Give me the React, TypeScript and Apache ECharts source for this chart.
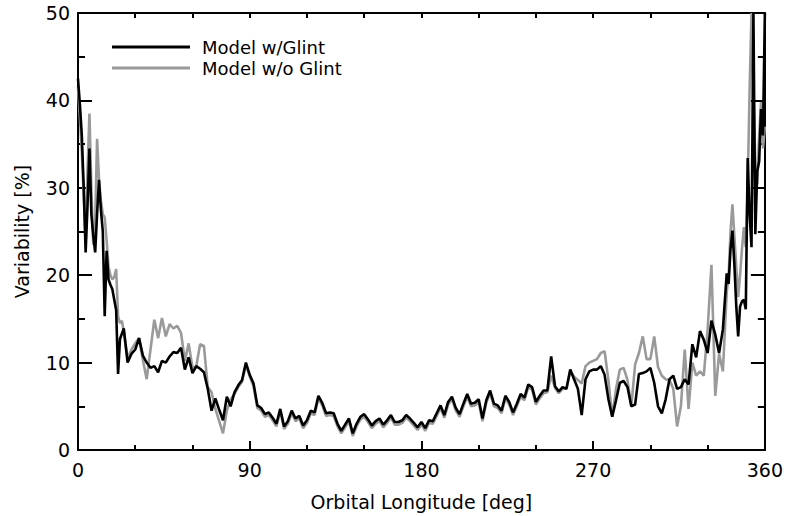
import React, { useEffect, useRef } from "react";
import * as echarts from "echarts";

// Orbital longitude samples [deg]
const longitude = [
  0, 1, 2, 3, 4, 5, 6, 7, 8, 9, 10, 11, 12, 13, 14, 15, 16, 17, 18, 19, 20, 21, 22, 23, 24,
  26, 28, 30, 32, 34,
  36, 38, 40, 42, 44,
  46, 48, 50, 52, 54,
  56, 58, 60, 62, 64,
  66, 68, 70, 72, 74,
  76, 78, 80, 82, 84,
  86, 88, 90, 92, 94,
  96, 98, 100, 102, 104,
  106, 108, 110, 112, 114,
  116, 118, 120, 122, 124,
  126, 128, 130, 132, 134,
  136, 138, 140, 142, 144,
  146, 148, 150, 152, 154,
  156, 158, 160, 162, 164,
  166, 168, 170, 172, 174,
  176, 178, 180, 182, 184,
  186, 188, 190, 192, 194,
  196, 198, 200, 202, 204,
  206, 208, 210, 212, 214,
  216, 218, 220, 222, 224,
  226, 228, 230, 232, 234,
  236, 238, 240, 242, 244,
  246, 248, 250, 252, 254,
  256, 258, 260, 262, 264,
  266, 268, 270, 272, 274,
  276, 278, 280, 282, 284,
  286, 288, 290, 292, 294,
  296, 298, 300, 302, 304,
  306, 308, 310, 312, 314,
  316, 318, 320, 322, 324,
  326, 328, 330, 332, 334,
  336, 338, 340,
  341, 342, 343, 344, 345, 346, 347, 348, 349, 350,
  351, 352, 353, 354, 355, 356, 357, 358, 359, 360,
];

// Variability [%], model including glint
const withGlint = [
  42.5, 39.5, 36, 30, 22.6, 28, 34.5, 27, 24.5, 22.6, 27, 30.9, 27.5, 25, 15.3, 22.8, 19.5, 18.9, 18.4, 17.2, 16, 8.7, 12.7, 13.3, 13.9,
  10.0, 11.0, 11.5, 12.8, 10.8,
  10.0, 9.4, 9.6, 8.9, 10.2,
  10.0, 10.7, 11.2, 11.1, 11.7,
  9.2, 10.6, 8.8, 9.6, 9.3,
  8.9, 7.0, 4.5, 5.9, 4.6,
  3.4, 6.1, 5.0, 6.6, 7.4,
  8.0, 10.0, 8.6, 7.6, 5.1,
  4.8, 4.1, 4.3, 3.7, 3.0,
  4.7, 2.7, 3.3, 4.5, 3.6,
  3.9, 2.8, 3.4, 4.5, 4.3,
  6.2, 5.4, 4.2, 4.3, 4.2,
  3.0, 2.2, 2.9, 3.6, 1.9,
  3.0, 3.8, 4.1, 3.5, 2.8,
  3.3, 3.6, 2.9, 3.4, 4.0,
  3.2, 3.2, 3.4, 4.0, 3.6,
  3.1, 2.6, 3.2, 2.5, 3.4,
  3.3, 4.2, 5.1, 4.0, 5.5,
  6.1, 4.8, 4.1, 5.3, 6.4,
  5.3, 5.4, 5.8, 3.6, 5.7,
  6.8, 5.3, 5.1, 4.5, 6.2,
  5.5, 4.3, 5.3, 6.4, 6.0,
  7.5, 7.2, 5.5, 6.2, 6.8,
  6.8, 10.7, 7.3, 6.7, 7.2,
  7.0, 9.2, 8.1, 7.0, 4.0,
  8.1, 9.0, 9.2, 9.2, 9.6,
  8.6, 5.8, 3.8, 5.7, 7.7,
  7.9, 7.2, 5.0, 5.2, 8.7,
  8.8, 9.0, 9.4, 7.7, 5.0,
  4.2, 5.8, 8.1, 8.5, 7.0,
  7.2, 8.1, 7.5, 12.1, 10.6,
  13.6, 12.6, 11.1, 14.8, 13.2,
  11.1, 13.8, 20.2,
  19.0, 23.0, 25.1, 21.3, 16.5, 13.0, 16.4, 17.0, 17.2, 16.1,
  33.4, 27.0, 23.2, 50.0, 24.7, 31.9, 33.0, 39.0, 36.0, 50.0,
];

// Variability [%], model without glint
const withoutGlint = [
  41.5, 38, 34, 29, 24, 32, 38.5, 30, 23.5, 26, 35.6, 31, 28.5, 27, 26.6, 24, 21, 20, 19.5, 19.8, 20.7, 15.3, 14.5, 14.8, 13.5,
  10.5, 11.5, 12.2, 12.8, 10.3,
  8.1, 11.5, 14.9, 12.8, 15.1,
  13.0, 14.4, 13.9, 14.2, 13.4,
  10.2, 12.2, 9.4, 9.6, 12.1,
  11.9, 7.2, 6.6, 4.7, 3.3,
  1.9, 4.5, 5.8, 6.4, 7.2,
  7.8, 9.8, 8.4, 7.3, 4.8,
  4.5, 3.8, 4.0, 3.4, 2.7,
  4.4, 2.4, 3.0, 4.2, 3.3,
  3.6, 2.5, 3.1, 4.2, 4.0,
  5.9, 5.1, 3.9, 4.0, 3.9,
  2.7, 1.9, 2.6, 3.3, 1.6,
  2.7, 3.5, 3.8, 3.2, 2.5,
  3.0, 3.3, 2.6, 3.1, 3.7,
  2.9, 2.9, 3.1, 3.7, 3.3,
  2.8, 2.3, 2.9, 2.2, 3.1,
  3.0, 3.9, 4.8, 3.7, 5.2,
  5.8, 4.5, 3.8, 5.0, 6.1,
  5.0, 5.1, 5.5, 3.3, 5.4,
  6.5, 5.0, 4.8, 4.2, 5.9,
  5.2, 4.0, 5.0, 6.1, 5.7,
  7.2, 6.9, 5.2, 5.9, 6.5,
  6.6, 8.5, 7.1, 6.5, 7.0,
  7.0, 9.0, 8.4, 8.0, 7.6,
  9.6, 10.0, 10.2, 10.4, 11.1,
  11.3, 8.0, 3.8, 7.0, 9.2,
  9.4, 8.0, 5.0, 9.8, 11.1,
  13.0, 10.4, 10.4, 13.0, 9.5,
  8.5, 8.1, 8.0, 7.0, 2.7,
  5.0, 11.5, 4.7, 10.0, 8.5,
  9.0, 8.5, 13.8, 21.2, 6.2,
  11.0, 9.0, 18.0,
  20.0, 25.0, 28.1, 24.5, 21.0, 17.5, 20.0, 23.0, 25.5, 23.2,
  30.0, 41.3, 50.0, 40.0, 33.0, 30.4, 36.0, 39.8, 34.5, 37.0,
];

const FONT = "'DejaVu Sans', 'Liberation Sans', sans-serif";
const GREY = "#9a9a9a";

function toPairs(values: number[]) {
  return longitude.map((x, i) => [x, values[i]]);
}

function xAxisBase(position: "bottom" | "top", tickLen: number, minorLen: number, labels: boolean) {
  return {
    type: "value" as const,
    position,
    min: 0,
    max: 360,
    interval: 90,
    axisLine: { show: true, onZero: false, lineStyle: { color: "#000", width: 2 } },
    axisTick: { show: true, inside: true, length: tickLen, lineStyle: { color: "#000", width: 2 } },
    minorTick: { show: true, splitNumber: 3, length: minorLen, lineStyle: { color: "#000", width: 2 } },
    splitLine: { show: false },
    minorSplitLine: { show: false },
    axisLabel: { show: labels, color: "#000", fontSize: 19, fontFamily: FONT, margin: 10 },
  };
}

function yAxisBase(position: "left" | "right", labels: boolean) {
  return {
    type: "value" as const,
    position,
    min: 0,
    max: 50,
    interval: 10,
    axisLine: { show: true, onZero: false, lineStyle: { color: "#000", width: 2 } },
    axisTick: { show: true, inside: true, length: 14, lineStyle: { color: "#000", width: 2 } },
    minorTick: { show: true, splitNumber: 2, length: 7, lineStyle: { color: "#000", width: 2 } },
    splitLine: { show: false },
    minorSplitLine: { show: false },
    axisLabel: { show: labels, color: "#000", fontSize: 19, fontFamily: FONT, margin: 8 },
  };
}

export default function App() {
  const ref = useRef<HTMLDivElement>(null);

  useEffect(() => {
    if (!ref.current) return;
    const chart = echarts.init(ref.current, null, { renderer: "svg" });
    chart.setOption({
      animation: false,
      backgroundColor: "#fff",
      grid: { left: 78, right: 21, top: 13, bottom: 61, containLabel: false },
      legend: {
        orient: "vertical",
        left: 112,
        top: 38,
        padding: 0,
        icon: "rect",
        itemWidth: 78,
        itemHeight: 3,
        itemGap: 3,
        data: [
          { name: "Model w/Glint", itemStyle: { color: "#000" } },
          { name: "Model w/o Glint", itemStyle: { color: GREY } },
        ],
        textStyle: { color: "#000", fontSize: 18, fontFamily: FONT, padding: [0, 0, 0, 7] },
      },
      xAxis: [
        {
          ...xAxisBase("bottom", 9, 5, true),
          name: "Orbital Longitude [deg]",
          nameLocation: "middle",
          nameGap: 42,
          nameTextStyle: { color: "#000", fontSize: 19, fontFamily: FONT },
        },
        xAxisBase("top", 5, 5, false),
      ],
      yAxis: [
        {
          ...yAxisBase("left", true),
          name: "Variability [%]",
          nameLocation: "middle",
          nameGap: 47,
          nameTextStyle: { color: "#000", fontSize: 19, fontFamily: FONT },
        },
        yAxisBase("right", false),
      ],
      series: [
        {
          name: "Model w/o Glint",
          type: "line",
          data: toPairs(withoutGlint),
          symbol: "none",
          clip: true,
          lineStyle: { color: GREY, width: 2.6 },
          itemStyle: { color: GREY },
          z: 2,
        },
        {
          name: "Model w/Glint",
          type: "line",
          data: toPairs(withGlint),
          symbol: "none",
          clip: true,
          lineStyle: { color: "#000", width: 2.6 },
          itemStyle: { color: "#000" },
          z: 3,
        },
      ],
    });
    return () => chart.dispose();
  }, []);

  return (
    <div
      ref={ref}
      style={{ position: "fixed", left: 0, top: 0, width: 786, height: 516, background: "#fff" }}
    />
  );
}
